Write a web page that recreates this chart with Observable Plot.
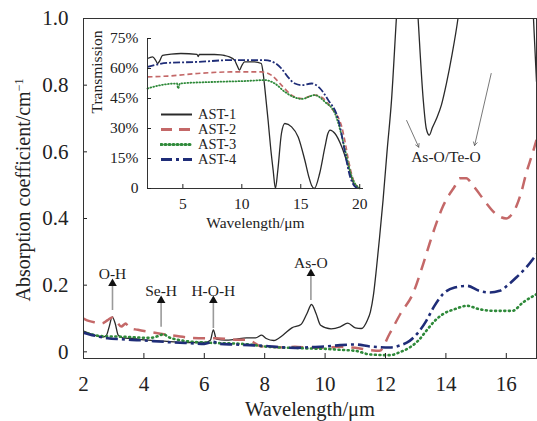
<!DOCTYPE html>
<html><head><meta charset="utf-8">
<script src="https://cdn.jsdelivr.net/npm/d3@7"></script>
<script src="https://cdn.jsdelivr.net/npm/@observablehq/plot@0.6"></script>
<style>
body{margin:0;background:#fff;}
#wrap{position:relative;width:537px;height:421px;overflow:hidden;font-family:"Liberation Serif","Times New Roman",Times,Tinos,serif;}
#wrap svg, #wrap svg text{font-family:"Liberation Serif","Times New Roman",Times,Tinos,serif !important;}
#inset{position:absolute;left:80px;top:25px;}
#legend{position:absolute;left:160px;top:107px;font-size:14.5px;color:#222;}
#legend .row{height:15px;display:flex;align-items:center;}
#legend svg{margin-right:5px;}
</style></head><body><div id="wrap"><div id="main"></div><div id="inset"></div><div id="legend"></div></div>
<script>
const series = ["AST-1","AST-2","AST-3","AST-4"];
const colors = ["#2a2a2a","#c46868","#2f8a3a","#1f2d78"];
const mainDash = [null,"12,8","1,3.6","12,4,3,4"];
const mainWidth = [1.3,2.5,2.6,2.6];
const mainCap = ["butt","butt","round","butt"];
const insetDash = [null,"5,3","0.8,2.2","7,2,2,2"];
const insetWidth = [1.3,1.6,1.8,1.8];
const insetCap = ["butt","butt","round","butt"];
const legendDash = [null,"11,7","1,3","11,4,3,4"];
const legendWidth = [2,3,3,3];
const legendCap = ["butt","butt","round","butt"];

const xTicksMain = [2,4,6,8,10,12,14,16];
const yTicksMain = [0,0.2,0.4,0.6,0.8,1.0];
const xTicksInset = [5,10,15,20];
const yTicksInset = [0,15,30,45,60,75];
const xLabel = "Wavelength/μm";
const yLabelMain = "Absorption coefficient/cm";
const yLabelInset = "Transmission";

// Main chart: absorption coefficient (cm^-1) vs wavelength (µm)
const absAST1 = [[2.0,0.062],[2.3,0.052],[2.6,0.044],[2.75,0.048],[2.85,0.075],[2.95,0.105],[3.05,0.085],[3.15,0.05],[3.3,0.042],[3.6,0.04],[4.0,0.036],[4.5,0.033],[5.0,0.03],[5.5,0.028],[6.0,0.028],[6.2,0.035],[6.3,0.066],[6.4,0.038],[6.7,0.035],[7.0,0.037],[7.4,0.042],[7.7,0.042],[7.9,0.05],[8.05,0.04],[8.3,0.034],[8.6,0.05],[8.9,0.072],[9.2,0.082],[9.4,0.115],[9.55,0.142],[9.7,0.115],[9.85,0.08],[10.2,0.069],[10.5,0.075],[10.75,0.086],[11.0,0.072],[11.2,0.07],[11.4,0.095],[11.5,0.12],[11.6,0.17],[11.7,0.25],[11.8,0.34],[11.92,0.456],[12.05,0.6],[12.2,0.756],[12.36,1.0],[12.5,1.2],[12.75,1.4],[12.95,1.2],[13.08,1.0],[13.25,0.756],[13.35,0.67],[13.45,0.65],[13.55,0.672],[13.69,0.70],[13.85,0.74],[14.02,0.806],[14.2,0.89],[14.4,1.0],[14.6,1.15],[15.0,1.45],[15.8,1.6],[16.5,1.4],[16.9,1.0],[17.0,0.81]];
const absAST2 = [[2.0,0.100],[2.2,0.092],[2.4,0.088],[2.6,0.085],[2.8,0.095],[2.95,0.103],[3.1,0.09],[3.25,0.076],[3.4,0.085],[3.5,0.072],[3.8,0.066],[4.1,0.061],[4.5,0.055],[4.8,0.051],[5.2,0.046],[5.6,0.042],[6.0,0.041],[6.4,0.041],[6.8,0.038],[7.1,0.036],[7.4,0.036],[7.6,0.03],[7.85,0.017],[8.2,0.015],[8.6,0.013],[9.0,0.015],[9.5,0.012],[10.0,0.012],[10.5,0.015],[11.0,0.012],[11.5,0.005],[11.8,0.003],[12.14,0.055],[12.5,0.115],[12.91,0.175],[13.2,0.25],[13.46,0.325],[13.7,0.39],[13.9,0.436],[14.1,0.47],[14.29,0.496],[14.45,0.521],[14.68,0.521],[14.85,0.505],[15.01,0.486],[15.34,0.446],[15.6,0.418],[15.78,0.406],[16.0,0.40],[16.2,0.415],[16.33,0.436],[16.5,0.48],[16.66,0.536],[16.85,0.59],[17.0,0.636]];
const absAST3 = [[2.0,0.058],[2.3,0.052],[2.6,0.047],[3.0,0.046],[3.4,0.045],[3.8,0.043],[4.2,0.042],[4.5,0.048],[4.65,0.053],[4.8,0.045],[5.2,0.035],[5.6,0.03],[6.0,0.028],[6.5,0.026],[7.0,0.025],[7.5,0.022],[8.0,0.016],[8.5,0.013],[9.0,0.012],[9.5,0.01],[10.0,0.009],[10.5,0.006],[11.0,0.003],[11.5,-0.008],[12.14,-0.01],[12.5,0.0],[12.8,0.013],[13.1,0.035],[13.35,0.063],[13.6,0.09],[13.9,0.113],[14.29,0.128],[14.7,0.138],[15.1,0.128],[15.56,0.123],[16.2,0.123],[16.55,0.148],[17.0,0.173]];
const absAST4 = [[2.0,0.057],[2.2,0.052],[2.5,0.046],[2.8,0.041],[3.2,0.038],[3.6,0.036],[4.0,0.034],[4.5,0.031],[5.0,0.028],[5.5,0.026],[6.0,0.024],[6.3,0.03],[6.5,0.024],[7.0,0.022],[7.5,0.02],[8.0,0.018],[8.5,0.014],[9.0,0.012],[9.5,0.014],[10.0,0.016],[10.5,0.02],[11.0,0.022],[11.5,0.016],[12.14,0.013],[12.5,0.02],[12.8,0.033],[13.1,0.06],[13.35,0.093],[13.6,0.135],[13.9,0.173],[14.29,0.193],[14.7,0.198],[15.1,0.183],[15.45,0.178],[15.78,0.183],[16.05,0.2],[16.33,0.223],[16.66,0.253],[17.0,0.293]];

// Inset: transmission (%) vs wavelength (µm)
const trAST1 = [[2.0,65],[2.43,65.8],[2.7,64],[2.85,62.5],[3.0,63.5],[3.28,66.6],[4.0,67.2],[4.84,67.5],[6.2,67.1],[6.3,66],[6.4,67],[7.68,67],[8.2,66.8],[8.53,66.5],[8.95,65.8],[9.38,64.2],[9.6,61.5],[9.8,59.2],[10.0,61.5],[10.23,63.3],[11.08,63.3],[11.65,62.5],[11.8,58],[11.94,50.8],[12.23,34],[12.45,20],[12.66,9],[12.85,0],[13.05,9],[13.36,27.5],[13.65,32.5],[14.22,30.8],[14.78,25.8],[15.35,14],[15.7,5.5],[15.92,1.5],[16.15,0],[16.6,7.5],[17.05,20.8],[17.3,27.5],[17.48,29.2],[17.9,27.5],[18.48,20.8],[19.05,10.8],[19.48,2.5],[19.76,0]];
const trAST2 = [[2.0,55.8],[3.7,56.2],[6.26,57.5],[9.1,58.3],[11.65,58.3],[12.5,56.7],[13.36,51.7],[14.22,46.7],[15.07,45],[16.2,46.7],[16.8,45.5],[17.62,40],[18.48,30.8],[18.8,22],[19.05,14],[19.48,4],[20.0,0]];
const trAST3 = [[2.0,50],[3.14,51.7],[4.5,52.5],[4.6,50],[4.75,52.5],[7.68,53.3],[10.5,53.8],[11.94,54.2],[12.8,52.5],[13.65,48.3],[14.5,45.5],[15.07,44.8],[16.2,46.7],[17.05,43.3],[17.9,37.5],[18.4,28],[18.76,19.2],[19.33,5.8],[20.0,0]];
const trAST4 = [[2.0,60.8],[3.7,62.8],[6.26,63.3],[9.1,64.2],[11.94,64.2],[12.8,62.8],[13.36,60],[13.9,55.8],[14.5,52.5],[15.07,51.7],[15.92,52.5],[16.5,50.8],[17.33,44.2],[18.2,34],[18.5,26],[18.76,17.5],[19.19,5.8],[19.6,1],[20.0,0]];

// Annotations
const annLabels = ["O-H","Se-H","H-O-H","As-O","As-O/Te-O"];
const annX = [2.96,4.57,6.30,9.53,14.0];
const annY = [0.232,0.181,0.181,0.265,0.583];
const arrowX = [2.96,4.57,6.30,9.53];
const arrowBase = [0.124,0.074,0.07,0.154];
const arrowTip = [0.205,0.154,0.154,0.235];
const diagArrows = [[12.7,0.694,13.1,0.614],[15.5,0.835,14.95,0.619]];

const toRows = (arrs) => arrs.flatMap((a,i)=>a.map(([x,y])=>({x,y,s:series[i]})));
const mainRows = toRows([absAST1,absAST2,absAST3,absAST4]);
const insetRows = toRows([trAST1,trAST2,trAST3,trAST4]);
const font = "'Liberation Serif', 'Times New Roman', Times, Tinos, serif";

const mainLines = series.map((s,i)=>Plot.line(mainRows.filter(d=>d.s===s),{x:"x",y:"y",stroke:colors[i],strokeWidth:mainWidth[i],strokeDasharray:mainDash[i],strokeLinecap:mainCap[i],clip:true,curve:"monotone-x"}));

const ann = annLabels.map((t,i)=>({t,x:annX[i],y:annY[i]}));
const arr = arrowX.map((x,i)=>({x,y1:arrowBase[i],y2:arrowTip[i]}));
const diag = diagArrows.map(([x1,y1,x2,y2])=>({x1,y1,x2,y2}));

const main = Plot.plot({
  width:537,height:421,marginLeft:83,marginRight:1,marginTop:18,marginBottom:63,
  style:{fontFamily:font,background:"transparent",color:"#222"},
  x:{domain:[2,17]},
  y:{domain:[-0.02,1.0]},
  marks:[
    ...mainLines,
    Plot.ruleX(arr,{x:"x",y1:"y1",y2:"y2",stroke:"#9a9a9a",strokeWidth:1.6}),
    Plot.dot(arr,{x:"x",y:"y2",symbol:"triangle",r:3.2,fill:"#111",stroke:null}),
    Plot.arrow(diag,{x1:"x1",y1:"y1",x2:"x2",y2:"y2",stroke:"#555",strokeWidth:0.8,headLength:7}),
    Plot.text(ann,{x:"x",y:"y",text:"t",fontSize:15.5,fill:"#222",lineAnchor:"middle"}),
    Plot.axisX({ticks:xTicksMain,tickSize:-5,tickPadding:23,fontSize:21,label:null,tickFormat:d=>String(d)}),
    Plot.axisY({ticks:yTicksMain,tickSize:-4,tickPadding:19,fontSize:21,label:null,tickFormat:d=>d===0?"0":d.toFixed(1)}),
    Plot.frame({stroke:"#333"}),
    Plot.text([xLabel],{frameAnchor:"bottom",dy:51,fontSize:20.5,fill:"#222",lineAnchor:"middle"})
  ]
});
document.getElementById("main").appendChild(main);
const yl = d3.select(main).append("text")
  .attr("transform","translate(30,190) rotate(-90)")
  .attr("text-anchor","middle").attr("fill","#222")
  .style("font-family",font).style("font-size","20px");
yl.append("tspan").text(yLabelMain);
yl.append("tspan").attr("dy","-0.55em").style("font-size","12px").text("−1");

const insetLines = series.map((s,i)=>Plot.line(insetRows.filter(d=>d.s===s),{x:"x",y:"y",stroke:colors[i],strokeWidth:insetWidth[i],strokeDasharray:insetDash[i],strokeLinecap:insetCap[i],curve:"monotone-x"}));
const inset = Plot.plot({
  width:295,height:215,marginLeft:67,marginRight:12,marginTop:13,marginBottom:52,
  style:{fontFamily:font,background:"transparent",color:"#222"},
  x:{domain:[2,20.32]},
  y:{domain:[0,75]},
  marks:[
    ...insetLines,
    Plot.ruleX([2],{stroke:"#333"}),
    Plot.ruleY([0],{stroke:"#333"}),
    Plot.axisX({ticks:xTicksInset,tickSize:-4,tickPadding:13,fontSize:15.5,label:null}),
    Plot.axisY({ticks:yTicksInset,tickSize:-4,tickPadding:13,fontSize:15.5,label:null,tickFormat:d=>d===0?"0":d+"%"}),
    Plot.text([xLabel],{frameAnchor:"bottom",dy:35,fontSize:15.5,fill:"#222",lineAnchor:"middle"}),
    Plot.text([yLabelInset],{frameAnchor:"left",dx:-50,rotate:-90,fontSize:15.5,fill:"#222",lineAnchor:"middle"})
  ]
});
document.getElementById("inset").appendChild(inset);

const leg = d3.select("#legend");
series.forEach((s,i)=>{
  const row = leg.append("div").attr("class","row");
  const sv = row.append("svg").attr("width",33).attr("height",15);
  sv.append("line").attr("x1",1).attr("x2",32).attr("y1",7.5).attr("y2",7.5)
    .attr("stroke",colors[i]).attr("stroke-width",legendWidth[i])
    .attr("stroke-dasharray",legendDash[i]).attr("stroke-linecap",legendCap[i]);
  row.append("span").text(s);
});
</script></body></html>
